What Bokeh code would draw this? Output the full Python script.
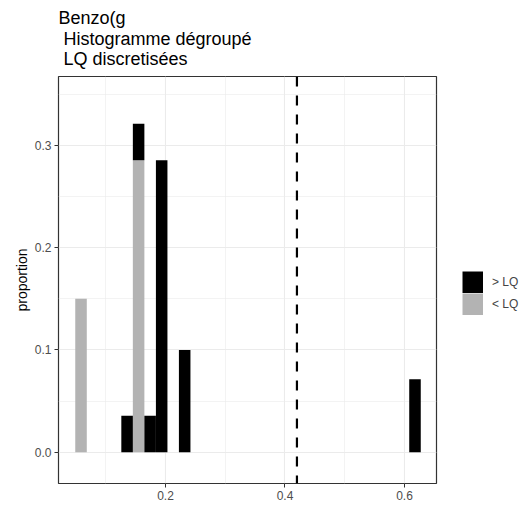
from bokeh.plotting import figure
from bokeh.models import (ColumnDataSource, Range1d, FixedTicker, PrintfTickFormatter,
                          Span, Legend, LegendItem, Title)
from bokeh.embed import file_html
from bokeh.resources import INLINE

# ---- data ----
bin_centers = [0.0586, 0.1357, 0.1550, 0.1743, 0.1936, 0.2321, 0.6176]
bin_width = 0.0193
prop_inf_lq = [0.15, 0.0, 0.2857, 0.0, 0.0, 0.0, 0.0]      # "< LQ"
prop_sup_lq = [0.0, 0.0357, 0.0357, 0.0357, 0.2857, 0.1, 0.0714]  # "> LQ"
lq_value = 0.42
x_ticks = [0.2, 0.4, 0.6]
x_minor = [0.0, 0.1, 0.3, 0.5]
y_ticks = [0.0, 0.1, 0.2, 0.3]
y_minor = [0.05, 0.15, 0.25, 0.35]
series_labels = ["> LQ", "< LQ"]
title_lines = ["Benzo(g", "Histogramme dégroupé", "LQ discretisées"]

FONT = "Liberation Sans"
GRAY = "#B3B3B3"

src = ColumnDataSource(dict(x=bin_centers, inf=prop_inf_lq, sup=prop_sup_lq))

p = figure(frame_width=378, frame_height=407, output_backend="svg", toolbar_location=None,
           x_range=Range1d(0.0209, 0.6536), y_range=Range1d(-0.0306, 0.3675),
           min_border_left=58, min_border_right=92, min_border_top=76, min_border_bottom=22)

rs = p.vbar_stack(["inf", "sup"], x="x", width=bin_width, source=src,
                  fill_color=[GRAY, "black"], line_color=None)

p.add_layout(Span(location=lq_value, dimension="height", line_color="black",
                  line_width=2.2, line_dash="10 9"))

# grids
p.xgrid.ticker = FixedTicker(ticks=x_ticks, minor_ticks=x_minor)
p.ygrid.ticker = FixedTicker(ticks=y_ticks, minor_ticks=y_minor)
for g in (p.xgrid, p.ygrid):
    g.grid_line_color = "#EBEBEB"
    g.grid_line_width = 1.1
    g.minor_grid_line_color = "#EBEBEB"
    g.minor_grid_line_width = 0.6

# axes
p.xaxis.ticker = FixedTicker(ticks=x_ticks)
p.yaxis.ticker = FixedTicker(ticks=y_ticks)
for ax in (p.xaxis, p.yaxis):
    ax.formatter = PrintfTickFormatter(format="%.1f")
    ax.axis_line_color = None
    ax.major_tick_line_color = "#333333"
    ax.major_tick_in = 0
    ax.major_tick_out = 4
    ax.minor_tick_in = 0
    ax.minor_tick_out = 0
    ax.major_label_text_font = FONT
    ax.major_label_text_font_size = "12px"
    ax.major_label_text_color = "#4D4D4D"
p.xaxis.major_label_standoff = 3
p.yaxis.major_label_standoff = 3
p.yaxis.axis_label = "proportion"
p.yaxis.axis_label_text_font = FONT
p.yaxis.axis_label_text_font_size = "14px"
p.yaxis.axis_label_text_font_style = "normal"
p.yaxis.axis_label_text_color = "black"
p.yaxis.axis_label_standoff = 2

p.outline_line_color = "#333333"
p.outline_line_width = 1.2
p.background_fill_color = "white"
p.border_fill_color = "white"

# titles (first added is closest to the frame)
p.title.visible = False
offsets = [0, 5, 5]
standoffs = [14, -20, 16]
valigns = ["top", "bottom", "bottom"]
for line, off, so, va in reversed(list(zip(title_lines, offsets, standoffs, valigns))):
    p.add_layout(Title(text=line, text_font=FONT, text_font_size="18px",
                       text_font_style="normal", text_color="black",
                       align="left", offset=off, standoff=so, vertical_align=va), "above")

# legend keys: hidden thick butt-capped lines -> key box filled without inset
key_sup = p.line(x="x", y="sup", source=src, line_color="black",
                 line_width=22, line_cap="butt", visible=False)
key_inf = p.line(x="x", y="inf", source=src, line_color=GRAY,
                 line_width=22, line_cap="butt", visible=False)

legend = Legend(items=[LegendItem(label=series_labels[0], renderers=[key_sup]),
                       LegendItem(label=series_labels[1], renderers=[key_inf])],
                location=(26, 168), orientation="vertical",
                glyph_width=21, glyph_height=22, label_height=22, spacing=0,
                label_standoff=9, padding=0, margin=0,
                label_text_font=FONT, label_text_font_size="12px",
                border_line_alpha=0, background_fill_alpha=0)
p.add_layout(legend, "right")

open("out.html", "w").write(file_html(p, INLINE))
